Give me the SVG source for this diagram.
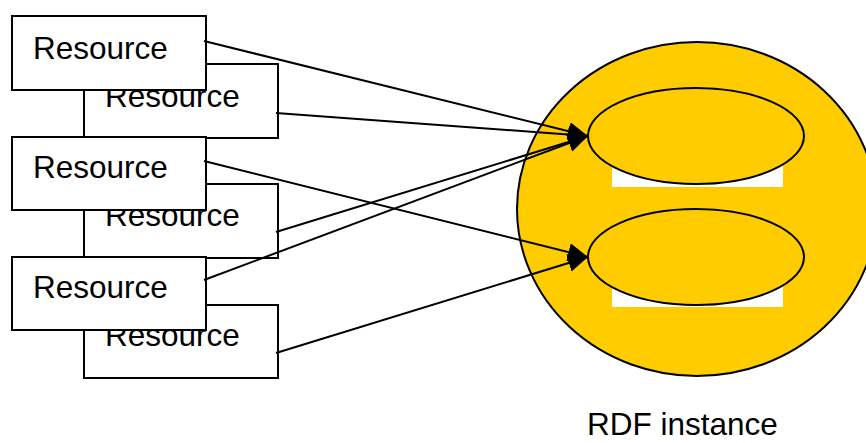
<svg xmlns="http://www.w3.org/2000/svg" width="866" height="443" viewBox="0 0 866 443">
<style>
.box{fill:#fff;stroke:#000;stroke-width:2}
.t{font-family:"Liberation Sans",Arial,sans-serif;font-size:31.5px;fill:#000}
.c{stroke:#000;stroke-width:2;fill:none;marker-end:url(#ah)}
.el{fill:#FFCC00;stroke:#000;stroke-width:2}
</style>
<defs>
<marker id="ah" markerUnits="userSpaceOnUse" markerWidth="21" markerHeight="19" refX="20" refY="9" orient="auto" viewBox="0 0 21 19">
<path d="M0,0 L20,9 L0,18 z" fill="#000"/>
</marker>
</defs>
<rect width="866" height="443" fill="#fff"/>
<g id="rdf-instance">
<ellipse cx="697" cy="209" rx="180" ry="167" class="el"/>
<rect x="612" y="165" width="171" height="22" fill="#fff"/>
<ellipse cx="696" cy="136" rx="108" ry="48" class="el"/>
<rect x="612" y="285" width="171" height="22" fill="#fff"/>
<ellipse cx="696" cy="257" rx="108" ry="48" class="el"/>
<text x="587" y="435" class="t">RDF instance</text>
</g>
<g id="res2"><rect x="84" y="64" width="194" height="74" class="box"/><text x="105" y="107" class="t">Resource</text></g>
<g id="res4"><rect x="84" y="184" width="194" height="74" class="box"/><text x="105" y="226" class="t">Resource</text></g>
<g id="res6"><rect x="84" y="305" width="194" height="73" class="box"/><text x="105" y="346" class="t">Resource</text></g>
<g id="res1"><rect x="12" y="16" width="194" height="74" class="box"/><text x="33" y="59" class="t">Resource</text></g>
<g id="res3"><rect x="12" y="137" width="194" height="73" class="box"/><text x="33" y="178" class="t">Resource</text></g>
<g id="res5"><rect x="12" y="257" width="194" height="73" class="box"/><text x="33" y="298" class="t">Resource</text></g>
<g id="connectors">
<line x1="204" y1="41" x2="588" y2="136" class="c"/>
<line x1="276" y1="113" x2="588" y2="136" class="c"/>
<line x1="276" y1="232" x2="588" y2="136" class="c"/>
<line x1="204" y1="280" x2="588" y2="136" class="c"/>
<line x1="204" y1="161" x2="588" y2="257" class="c"/>
<line x1="276" y1="353" x2="588" y2="257" class="c"/>
</g>
</svg>
